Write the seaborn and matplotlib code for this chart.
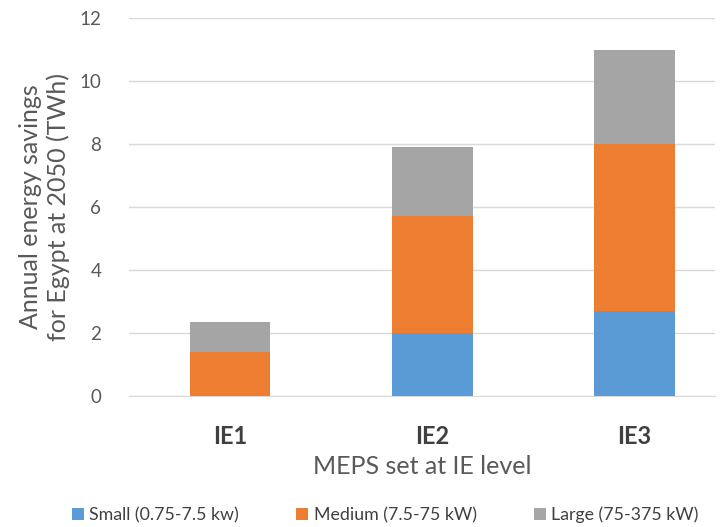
import matplotlib.pyplot as plt
import seaborn as sns
import pandas as pd
from matplotlib.patches import Patch

levels = ["IE1", "IE2", "IE3"]
small = [0.0, 2.0, 2.7]
medium = [1.4, 3.7, 5.3]
large = [0.95, 2.2, 3.0]
series_names = ["Small (0.75-7.5 kw)", "Medium (7.5-75 kW)", "Large (75-375 kW)"]
colors = ["#5B9BD5", "#ED7D31", "#A5A5A5"]

sns.set_style("white")
plt.rcParams["font.family"] = ["Lato", "DejaVu Sans"]

df = pd.DataFrame({"level": levels, "small": small, "medium": medium, "large": large})
# cumulative heights for stacking
df["to_medium"] = df["small"] + df["medium"]
df["to_large"] = df["to_medium"] + df["large"]

fig = plt.figure(figsize=(7.2, 5.27), dpi=100)
ax = fig.add_axes([129 / 720, 1 - 396 / 527, (715 - 129) / 720, (396 - 18) / 527])

# draw tallest first so the lower segments sit on top
for col, c in zip(["to_large", "to_medium", "small"], colors[::-1]):
    sns.barplot(x="level", y=col, data=df, color=c, width=0.4,
                saturation=1, linewidth=0, ax=ax, zorder=3)

ax.set_ylim(0, 12)
ax.set_yticks(range(0, 13, 2))
ax.set_xlim(-0.5, 2.4)
ax.grid(axis="y", color="#D9D9D9", linewidth=1, zorder=0)
sns.despine(ax=ax, left=True, bottom=False)
ax.spines["bottom"].set_color("#D9D9D9")

ax.tick_params(axis="y", length=0, labelsize=13.5, labelcolor="#595959", pad=20)
ax.tick_params(axis="x", length=0, labelsize=17, labelcolor="#404040", pad=21)
for lbl in ax.get_xticklabels():
    lbl.set_fontweight("bold")

ax.set_xlabel("MEPS set at IE level", fontsize=18, color="#595959", labelpad=5)
ax.set_ylabel("Annual energy savings\nfor Egypt at 2050 (TWh)", fontsize=18,
              color="#595959", linespacing=1.25)
ax.yaxis.set_label_coords(-0.1, 0.5)

handles = [Patch(facecolor=c, edgecolor="none") for c in colors]
fig.legend(handles, series_names, loc="center", bbox_to_anchor=(0.535, 1 - 515 / 527),
           ncol=3, frameon=False, fontsize=12.8, handlelength=0.7, handleheight=0.7,
           handletextpad=0.3, columnspacing=3.2, labelcolor="#404040")

fig.savefig("out.png", dpi=100)
